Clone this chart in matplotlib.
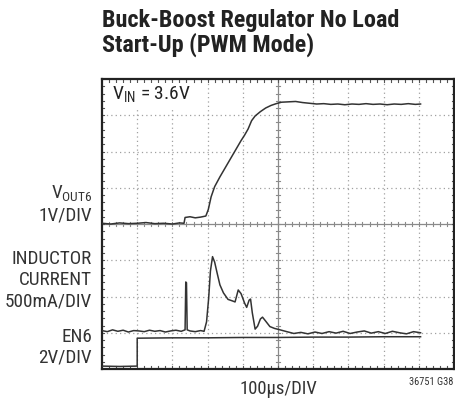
"""
Scope capture: buck-boost regulator no-load start-up in PWM mode.
Traces are in screen divisions (10 x 8 graticule).
"""

import matplotlib.pyplot as plt
from matplotlib import font_manager

# output voltage trace (div)
vout_t = [0.0, 0.25, 0.5, 0.75, 1.0, 1.25, 1.5, 1.75, 2.0, 2.2, 2.33, 2.36, 2.5, 2.65, 2.8,
          2.95, 3.02, 3.1, 3.2, 3.35, 3.5, 3.65, 3.8, 3.95, 4.05, 4.15, 4.25, 4.35, 4.5,
          4.65, 4.8, 4.95, 5.1, 5.3, 5.5, 5.7, 5.9, 6.1, 6.3, 6.5, 6.7, 6.9, 7.1, 7.3,
          7.5, 7.7, 7.9, 8.1, 8.3, 8.5, 8.7, 8.9, 9.05]
vout_v = [4.02, 4.00, 4.03, 4.01, 4.02, 4.04, 4.01, 4.02, 4.00, 4.03, 4.02, 4.18, 4.20,
          4.17, 4.19, 4.22, 4.40, 4.75, 5.03, 5.30, 5.55, 5.80, 6.05, 6.30, 6.45, 6.62,
          6.85, 6.98, 7.10, 7.20, 7.27, 7.32, 7.36, 7.37, 7.38, 7.35, 7.33, 7.31, 7.32,
          7.30, 7.31, 7.29, 7.31, 7.30, 7.32, 7.30, 7.31, 7.29, 7.31, 7.30, 7.32, 7.30, 7.31]

# inductor current trace (div)
ind_t = [0.0, 0.15, 0.3, 0.45, 0.6, 0.75, 0.9, 1.05, 1.2, 1.35, 1.5, 1.65, 1.8, 1.95,
         2.1, 2.25, 2.36, 2.38, 2.40, 2.42, 2.5, 2.65, 2.8, 2.9, 2.97, 3.03, 3.08, 3.14,
         3.2, 3.27, 3.35, 3.45, 3.58, 3.7, 3.78, 3.87, 3.95, 4.05, 4.11, 4.18, 4.22,
         4.27, 4.35, 4.42, 4.5, 4.56, 4.65, 4.77, 4.9, 5.06, 5.25, 5.45, 5.65, 5.85,
         6.05, 6.25, 6.45, 6.65, 6.85, 7.05, 7.25, 7.45, 7.65, 7.85, 8.05, 8.25, 8.45,
         8.65, 8.85, 9.05]
ind_v = [1.06, 1.03, 1.08, 1.04, 1.07, 1.02, 1.06, 1.05, 1.03, 1.07, 1.04, 1.06, 1.02,
         1.05, 1.07, 1.04, 1.08, 2.40, 2.38, 1.08, 1.05, 1.03, 1.06, 1.04, 1.30, 1.95,
         2.70, 3.10, 2.95, 2.65, 2.32, 2.10, 1.92, 1.88, 1.85, 2.18, 2.08, 1.82, 1.70,
         1.90, 1.93, 1.55, 1.10, 1.18, 1.38, 1.43, 1.32, 1.17, 1.12, 1.08, 1.03, 0.98,
         1.01, 0.97, 1.02, 0.98, 1.03, 0.99, 1.04, 0.98, 1.02, 1.05, 0.99, 1.03, 0.98,
         1.04, 1.00, 0.97, 1.03, 1.00]

# EN6 logic trace (div)
en_t = [0.0, 0.5, 1.0, 1.0, 2.0, 3.0, 4.0, 5.0, 6.0, 7.0, 8.0, 9.05]
en_v = [0.08, 0.07, 0.08, 0.85, 0.86, 0.86, 0.87, 0.87, 0.88, 0.88, 0.89, 0.89]

channel_labels = [
    (r"V$_{\mathregular{OUT6}}$", 194),
    ("1V/DIV", 215),
    ("INDUCTOR", 259),
    ("CURRENT", 280),
    ("500mA/DIV", 302),
    ("EN6", 337),
    ("2V/DIV", 358),
]

# pick a condensed sans face that also ships a bold weight
fonts = font_manager.fontManager.ttflist
narrow = "DejaVu Sans"
for fam in ["Roboto Condensed", "Fira Sans Condensed", "PT Sans Narrow",
            "Asap Condensed", "Archivo Narrow"]:
    weights = [f.weight for f in fonts if f.name == fam]
    if weights and any(int(w) >= 700 for w in weights if str(w).isdigit()):
        narrow = fam
        break
plt.rcParams["font.family"] = [narrow, "DejaVu Sans"]
plt.rcParams["mathtext.fontset"] = "custom"
plt.rcParams["mathtext.rm"] = narrow

W, H = 455, 403
fig = plt.figure(figsize=(W / 100, H / 100), dpi=100)
ax = fig.add_axes([102 / W, (H - 369) / H, 352 / W, 290 / H])
ax.set_xlim(0, 10)
ax.set_ylim(0, 8)
ax.set_xticks([])
ax.set_yticks([])
for s in ax.spines.values():
    s.set_linewidth(1.6)
    s.set_color("#222222")

grid_col = "#a0a0a0"
for x in range(1, 10):
    if x != 5:
        ax.axvline(x, color=grid_col, lw=0.9, ls=(0, (1, 2.5)), zorder=1)
for y in range(1, 8):
    if y != 4:
        ax.axhline(y, color=grid_col, lw=0.9, ls=(0, (1, 2.5)), zorder=1)
ax.axvline(5, color="#8a8a8a", lw=0.9, zorder=1)
ax.axhline(4, color="#8a8a8a", lw=0.9, zorder=1)

# minor ticks along the centre crosshair and the border
for i in range(1, 50):
    x = i * 0.2
    ax.plot([x, x], [3.94, 4.06], color="#8a8a8a", lw=0.8, zorder=1)
    ax.plot([x, x], [0, 0.08], color="#555555", lw=0.8, zorder=1)
    ax.plot([x, x], [7.92, 8], color="#555555", lw=0.8, zorder=1)
for i in range(1, 40):
    y = i * 0.2
    ax.plot([4.93, 5.07], [y, y], color="#8a8a8a", lw=0.8, zorder=1)
    ax.plot([0, 0.07], [y, y], color="#555555", lw=0.8, zorder=1)
    ax.plot([9.93, 10], [y, y], color="#555555", lw=0.8, zorder=1)

trace_col = "#333333"
ax.plot(vout_t, vout_v, color=trace_col, lw=1.1, zorder=3)
ax.plot(ind_t, ind_v, color=trace_col, lw=1.1, zorder=3)
ax.plot(en_t, en_v, color=trace_col, lw=1.1, zorder=3)

ax.text(0.28, 7.55, r"V$_{\mathregular{IN}}$ = 3.6V", fontsize=14, va="center", ha="left",
        color="#222222", zorder=4,
        bbox=dict(facecolor="white", edgecolor="none", pad=1.5))

fig.text(102 / W, 1 - 33 / H, "Buck-Boost Regulator No Load\nStart-Up (PWM Mode)",
         fontsize=17.4, fontweight="bold", ha="left", va="center", linespacing=1.0,
         color="#222222")

for label, y in channel_labels:
    fig.text(92 / W, 1 - y / H, label, fontsize=13.8, ha="right", va="center",
             color="#333333")

fig.text(278 / W, 1 - 389 / H, "100µs/DIV", fontsize=13.4, ha="center", va="center",
         color="#333333")
fig.text(453 / W, 1 - 382 / H, "36751 G38", fontsize=7.5, ha="right", va="center",
         color="#333333")

fig.savefig("out.png", dpi=100)
